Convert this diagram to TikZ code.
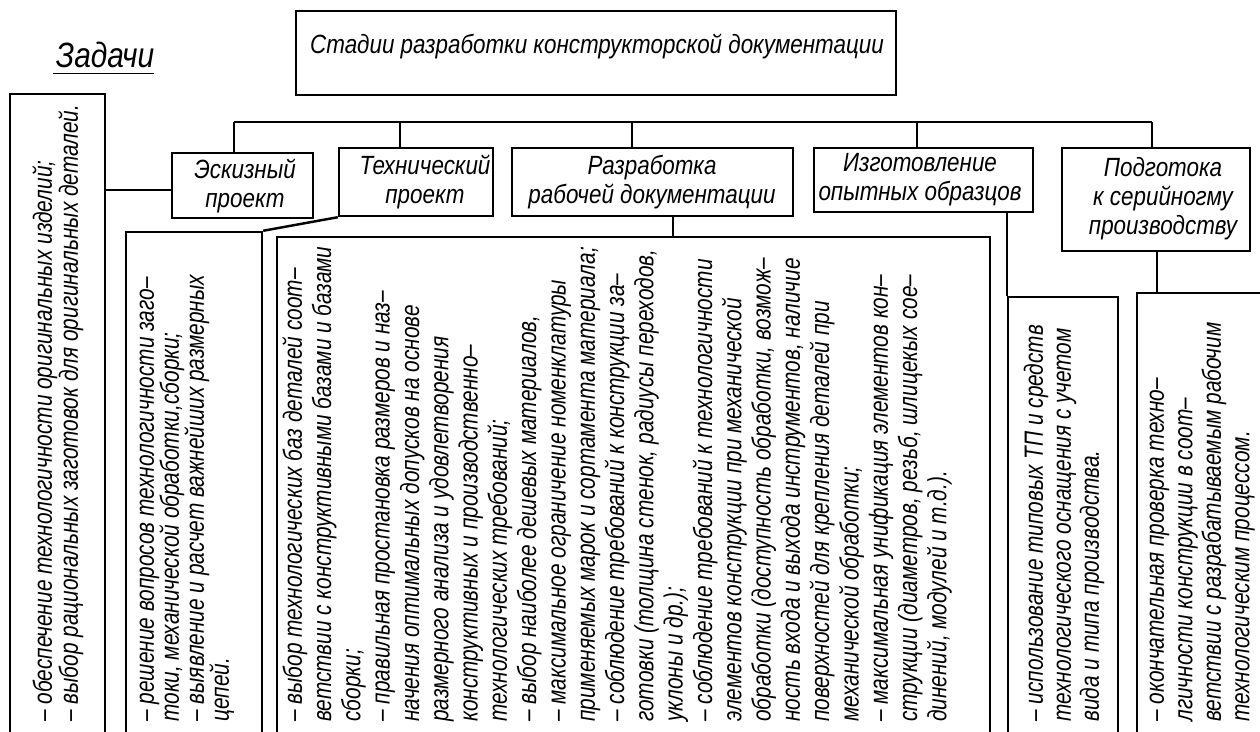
\documentclass[tikz,border=0pt]{standalone}
\usepackage{fontspec}
\setmainfont{Liberation Sans}[FakeStretch=0.85]
\newfontfamily\vfont{Liberation Sans}[FakeStretch=0.79]
\usetikzlibrary{fit,calc}
\begin{document}
\begin{tikzpicture}[x=0.02cm,y=-0.02cm,
  line/.style={line width=1.4pt},
  box/.style={draw, line width=1.4pt, inner sep=0pt},
  lbl/.style={font=\itshape\fontsize{15}{16.5}\selectfont, align=center, inner sep=0pt},
  ttl/.style={font=\itshape\fontsize{20}{24}\selectfont, inner sep=0pt},
  vt/.style={rotate=90, anchor=base west, inner sep=0pt, font=\vfont\itshape\fontsize{15}{16}\selectfont}]
\clip (0,0) rectangle (1260,732);
\fill[white] (0,0) rectangle (1260,732);

% title
\node[ttl] (zad) at (105,55) {Задачи};
\draw[line width=0.9pt] ($(zad.base west)+(-3,6)$) -- ($(zad.base east)+(0,6)$);

% upper boxes
\node[box, fit={(296,11)(896,95)}] (top) {};
\node[lbl] (ttop) at (597,47) {Стадии разработки конструкторской документации};
\node[box, fit={(172,153)(313,218)}] (esk) {};
\node[lbl] (tesk) at (245,186) {Эскизный\\проект};
\node[box, fit={(339,148)(493,216)}] (tech) {};
\node[lbl] (ttech) at (425,182) {Технический\\проект};
\node[box, fit={(512,148)(793,216)}] (razr) {};
\node[lbl] (trazr) at (652,182) {Разработка\\рабочей документации};
\node[box, fit={(814,148)(1033,212)}] (izg) {};
\node[lbl] (tizg) at (920,180) {Изготовление\\опытных образцов};
\node[box, fit={(1062,148)(1250,251)}] (podg) {};
\node[lbl] (tpodg) at (1163,199) {Подготока\\к серийногму\\производству};

% lower boxes
\node[box, fit={(10,94)(105,745)}] (bA) {};
\node[box, fit={(126,232)(262,745)}] (bB) {};
\node[box, fit={(277,237)(990,745)}] (bC) {};
\node[box, fit={(1008,297)(1118,745)}] (bD) {};
\node[box, fit={(1137,293)(1290,745)}] (bE) {};

% connectors
\coordinate (j1) at (234,122);
\coordinate (j2) at (400,122);
\coordinate (j3) at (632,122);
\coordinate (j4) at (917,122);
\coordinate (j5) at (1152,122);
\draw[line] (j1) -- (j5);
\draw[line] (j1) -- (j1 |- esk.north);
\draw[line] (j2) -- (j2 |- tech.north);
\draw[line] (j3) -- (j3 |- razr.north);
\draw[line] (j4) -- (j4 |- izg.north);
\draw[line] (j5) -- (j5 |- podg.north);
\coordinate (k1) at (172,190);
\draw[line] (k1 -| esk.west) -- (k1 -| bA.east);
\draw[line] (tech.south west) -- (bB.north east);
\coordinate (k2) at (673,237);
\draw[line] (k2) -- (k2 |- razr.south);
\draw[line] (bD.north west) -- (bD.north west |- izg.south);
\coordinate (k3) at (1157,293);
\draw[line] (k3) -- (k3 |- podg.south);

% texts
\foreach \t [count=\i] in {
 {– обеспечение технологичности оригинальных изделий;},
 {– выбор рациональных заготовок для оригинальных деталей.}}
 \node[vt] (a\i) at ({51.8+26*(\i-1)},722) {\t};

\foreach \t [count=\i] in {
 {– решение вопросов технологичности заго–},
 {токи, механической обработки,сборки;},
 {– выявление и расчет важнейших размерных},
 {цепей.}}
 \node[vt] (b\i) at ({153.8+25*(\i-1)},722) {\t};

\foreach \t [count=\i] in {
 {– выбор технологических баз деталей соот–},
 {ветствии с конструктивными базами и базами},
 {сборки;},
 {– правильная простановка размеров и наз–},
 {начения оптимальных допусков на основе},
 {размерного анализа и удовлетворения},
 {конструктивных и производственно–},
 {технологических требований;},
 {– выбор наиболее дешевых материалов,},
 {– максимальное ограничение номенклатуры},
 {применяемых марок и сортамента материала;},
 {– соблюдение требований к конструкции за–},
 {готовки (толщина стенок, радиусы переходов,},
 {уклоны и др.);},
 {– соблюдение требований к технологичности},
 {элементов конструкции при механической},
 {обработки (доступность обработки, возмож–},
 {ность входа и выхода инструментов, наличие},
 {поверхностей для крепления деталей при},
 {механической обработки;},
 {– максимальная унификация элементов кон–},
 {струкции (диаметров, резьб, шлицекых сое–},
 {динений, модулей и т.д.).}}
 \node[vt] (c\i) at ({301.8+29.3*(\i-1)},722) {\t};

\foreach \t [count=\i] in {
 {– использование типовых ТП и средств},
 {технологического оснащения с учетом},
 {вида и типа производства.}}
 \node[vt] (d\i) at ({1042.8+28*(\i-1)},722) {\t};

\foreach \t [count=\i] in {
 {– окончательная проверка техно–},
 {лгичности конструкции в соот–},
 {ветствии с разрабатываемым рабочим},
 {технологическим процессом.}}
 \node[vt] (e\i) at ({1163.8+28.5*(\i-1)},722) {\t};
\end{tikzpicture}
\end{document}
